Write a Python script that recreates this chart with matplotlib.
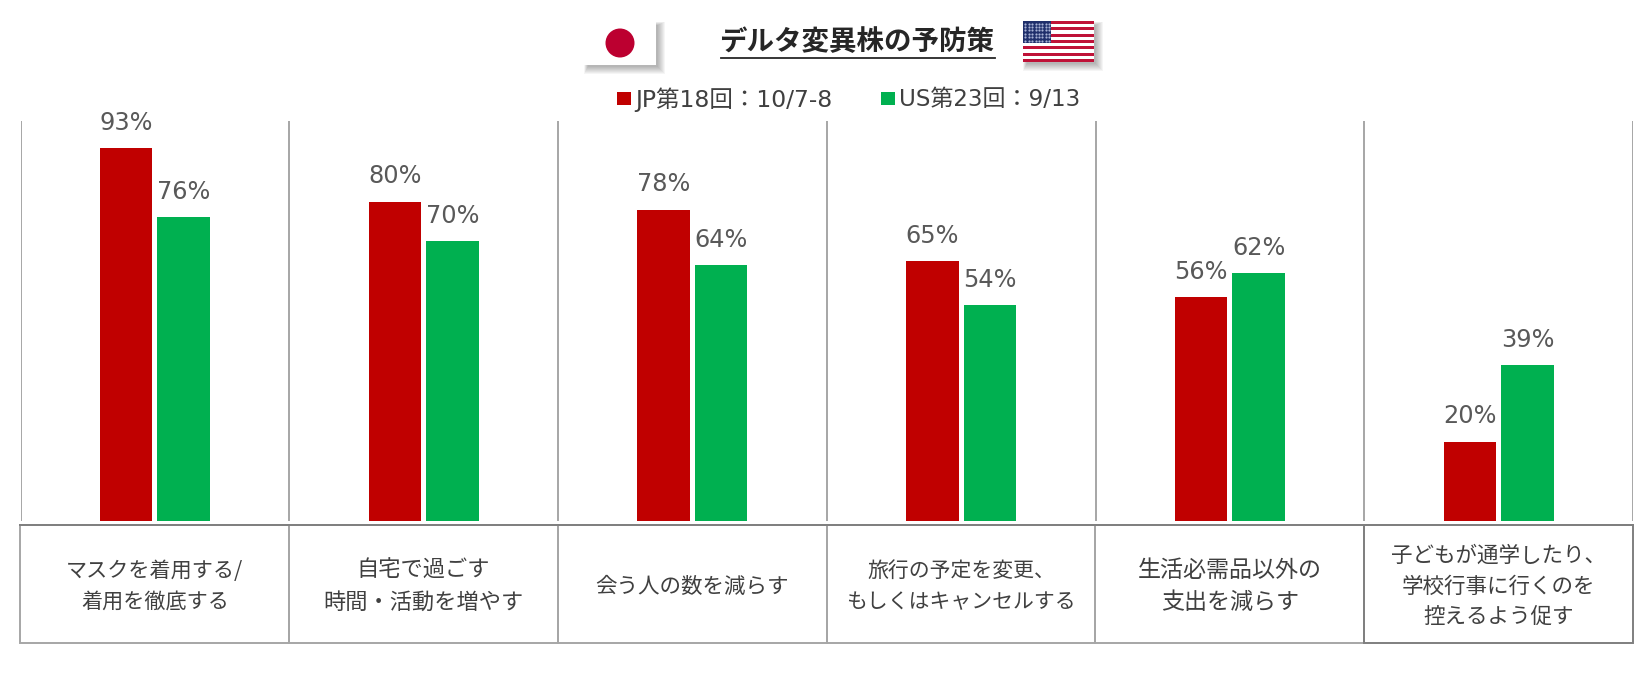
import numpy as np
import matplotlib
matplotlib.use('Agg')
import matplotlib.pyplot as plt
from matplotlib.patches import Rectangle, Circle

plt.rcParams['font.family'] = ['DejaVu Sans', 'Noto Sans CJK JP']

W, H = 1648, 673

# data
categories = ['マスクを着用する/\n着用を徹底する', '自宅で過ごす\n時間・活動を増やす', '会う人の数を減らす',
              '旅行の予定を変更、\nもしくはキャンセルする', '生活必需品以外の\n支出を減らす',
              '子どもが通学したり、\n学校行事に行くのを\n控えるよう促す']
jp_values = [93.4, 80, 78, 65, 56, 19.8]
us_values = [76, 70, 64, 54, 62, 39]
jp_label = 'JP第18回：10/7-8'
us_label = 'US第23回：9/13'
title = 'デルタ変異株の予防策'
category_sizes = [15.2, 16, 15.5, 15, 16.6, 15.5]

RED = '#C00000'
GREEN = '#00B050'
TEXT = '#404040'
LABEL = '#595959'
LINE = '#A6A6A6'
BOX = '#7F7F7F'

fig = plt.figure(figsize=(W / 100, H / 100), dpi=100, facecolor='white')

# overlay in pixel coordinates, for the flags and the label table
bg = fig.add_axes([0, 0, 1, 1])
bg.set_xlim(0, W)
bg.set_ylim(H, 0)
bg.axis('off')

# bar panel
left, right = 20.5, 1633
top, bottom = 121, 520.5
ax = fig.add_axes([left / W, 1 - bottom / H, (right - left) / W, (bottom - top) / H])
ax.patch.set_alpha(0)
x = np.arange(len(categories))
ax.bar(x - 0.107, jp_values, 0.196, color=RED)
ax.bar(x + 0.107, us_values, 0.196, color=GREEN)
ax.set_xlim(-0.5, 5.5)
ax.set_ylim(0, 100.2)
ax.set_xticks([])
ax.set_yticks([])
for s in ax.spines.values():
    s.set_visible(False)
for v in np.arange(-0.5, 5.6, 1):
    ax.axvline(v, color=LINE, lw=1.4)
for i, (a, b) in enumerate(zip(jp_values, us_values)):
    ax.annotate(f'{a:.0f}%', (i - 0.107, a), xytext=(0, 9.5), textcoords='offset points',
                ha='center', va='bottom', fontsize=17.3, color=LABEL)
    ax.annotate(f'{b:.0f}%', (i + 0.107, b), xytext=(0, 9.5), textcoords='offset points',
                ha='center', va='bottom', fontsize=17.3, color=LABEL)

# label table under the bars
cell = (right - left) / len(categories)
for i, name in enumerate(categories):
    bg.add_patch(Rectangle((left + i * cell, 524.5), cell, 118, fc='none', lw=1.4,
                           ec=BOX if i == len(categories) - 1 else LINE))
    bg.text(left + (i + 0.5) * cell, 586.5, name, ha='center', va='center',
            fontsize=category_sizes[i], color=TEXT, linespacing=1.5,
            family=['Noto Sans CJK JP', 'DejaVu Sans'])
bg.plot([left, right], [524.5, 524.5], color=BOX, lw=1.4)


def shadow(x0, y0, w, h):
    # soft drop shadow, stacked see-through boxes
    for k in range(8):
        bg.add_patch(Rectangle((x0 + 4 - 0.5 * k, y0 + 4 - 0.5 * k), w - 2 + 1.5 * k, h - 2 + 1.5 * k,
                               fc='black', ec='none', alpha=0.04))


# Japanese flag
shadow(584, 21, 72, 44)
bg.add_patch(Rectangle((584, 21), 72, 44, fc='white', ec='none'))
bg.add_patch(Circle((620, 43), 14.5, fc='#BC0030', ec='none'))

# US flag
fx, fy, fw, fh = 1023, 21, 71, 41
shadow(fx, fy, fw, fh)
sh = fh / 13
bg.add_patch(Rectangle((fx, fy), fw, fh, fc='white', ec='none'))
for k in range(0, 13, 2):
    bg.add_patch(Rectangle((fx, fy + k * sh), fw, sh, ec='none', fc='#BF1238'))
bg.add_patch(Rectangle((fx, fy), fw * 0.4, sh * 7, fc='#1F2F6B', ec='none'))
sx, sy = np.meshgrid(np.linspace(fx + 2.5, fx + fw * 0.4 - 2.5, 8), np.linspace(fy + 2.5, fy + sh * 7 - 2.5, 6))
bg.scatter(sx, sy, s=2.5, color='#A8B2D6', linewidths=0)

# title and legend
bg.text(857, 42, title, ha='center', va='center', fontsize=19.8, fontweight='bold',
        color='#262626', family=['Noto Sans CJK JP', 'DejaVu Sans'])
bg.plot([721, 995], [57.5, 57.5], color='#262626', lw=1.3)

bg.add_patch(Rectangle((617, 92), 14, 13, fc=RED, ec='none'))
bg.text(635, 100, jp_label, ha='left', va='center', fontsize=16.9, color=TEXT)
bg.add_patch(Rectangle((881, 92), 14, 13, fc=GREEN, ec='none'))
bg.text(899, 100, us_label, ha='left', va='center', fontsize=16.6, color=TEXT)

fig.savefig('out.png', dpi=100)
